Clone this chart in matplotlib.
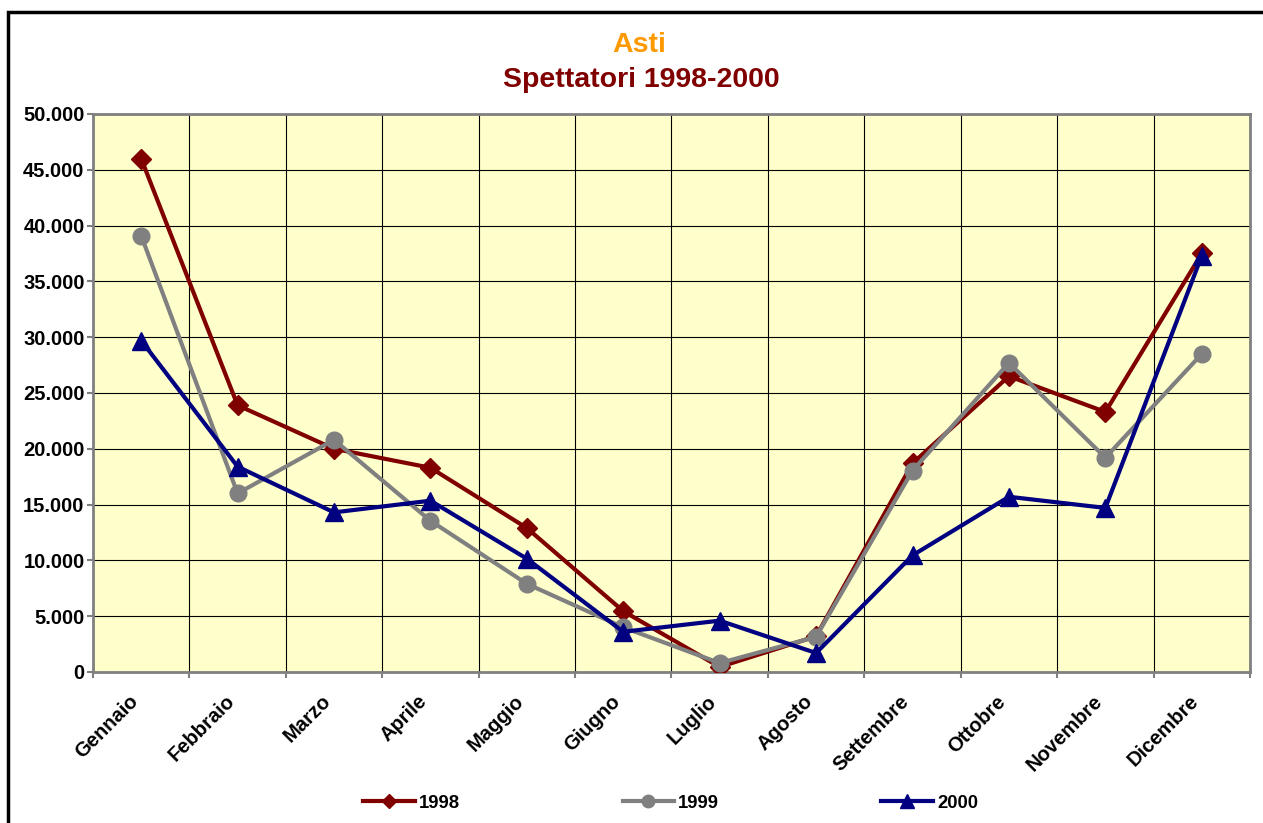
import matplotlib.pyplot as plt
import matplotlib.transforms as mtransforms
from matplotlib.patches import Rectangle
from matplotlib.ticker import FuncFormatter, FixedLocator

plt.rcParams['font.family'] = ['Liberation Sans', 'DejaVu Sans']
plt.rcParams['font.weight'] = 'bold'

mesi = ['Gennaio', 'Febbraio', 'Marzo', 'Aprile', 'Maggio', 'Giugno',
        'Luglio', 'Agosto', 'Settembre', 'Ottobre', 'Novembre', 'Dicembre']
y1998 = [46000, 23900, 20000, 18300, 12900, 5450, 450, 3200, 18700, 26500, 23300, 37500]
y1999 = [39100, 16000, 20800, 13550, 7900, 4000, 800, 3150, 18050, 27700, 19200, 28500]
y2000 = [29700, 18400, 14300, 15350, 10150, 3600, 4600, 1700, 10450, 15700, 14700, 37300]

fig = plt.figure(figsize=(12.63, 8.23), dpi=100)
ax = fig.add_axes([0.0736, 0.1835, 0.9161, 0.678])
ax.set_facecolor('#FFFFCC')

x = list(range(len(mesi)))
ax.plot(x, y1998, color='#800000', lw=3, marker='D', ms=10, mec='#800000', label='1998', zorder=3)
ax.plot(x, y1999, color='#808080', lw=3, marker='o', ms=12, mec='#808080', label='1999', zorder=4)
ax.plot(x, y2000, color='#000080', lw=3, marker='^', ms=13, mec='#000080', label='2000', zorder=5)

ax.set_xlim(-0.5, 11.5)
ax.set_ylim(0, 50000)
ax.set_yticks(range(0, 50001, 5000))
ax.yaxis.set_major_formatter(FuncFormatter(lambda v, p: f'{int(v):,}'.replace(',', '.')))

ax.set_xticks(x)
ax.set_xticklabels(mesi, rotation=45, ha='right', va='center', rotation_mode='anchor')
ax.xaxis.set_minor_locator(FixedLocator([i - 0.5 for i in range(13)]))
ax.tick_params(axis='x', which='major', length=0, pad=19, labelsize=14.5)
ax.tick_params(axis='x', which='minor', length=4.5, width=1.5, color='#808080')
ax.tick_params(axis='y', length=4.5, width=1.5, color='#808080', labelsize=14.5, pad=1.5)
shift = mtransforms.ScaledTranslation(-6 / 100, 0, fig.dpi_scale_trans)
for lab in ax.get_xticklabels():
    lab.set_transform(lab.get_transform() + shift)

ax.grid(axis='y', which='major', color='black', lw=0.8)
ax.grid(axis='x', which='minor', color='black', lw=0.8)
ax.set_axisbelow(True)
for s in ax.spines.values():
    s.set_color('#808080')
    s.set_linewidth(2)

fig.text(0.506, 0.945, 'Asti', color='#FF9900', fontsize=20.5, ha='center', va='center')
fig.text(0.508, 0.903, 'Spettatori 1998-2000', color='#800000', fontsize=20.5, ha='center', va='center')

fig.legend(loc='center', bbox_to_anchor=(0.531, 0.024), ncol=3, frameon=False,
           handlelength=2.8, columnspacing=8.8, handletextpad=0.2, fontsize=13.3,
           markerscale=0.75)

fig.patches.append(Rectangle((0.0063, -0.05), 1.1, 0.9854 + 0.05, transform=fig.transFigure,
                             fill=False, ec='black', lw=2.5))

fig.savefig('out.png', dpi=100)
